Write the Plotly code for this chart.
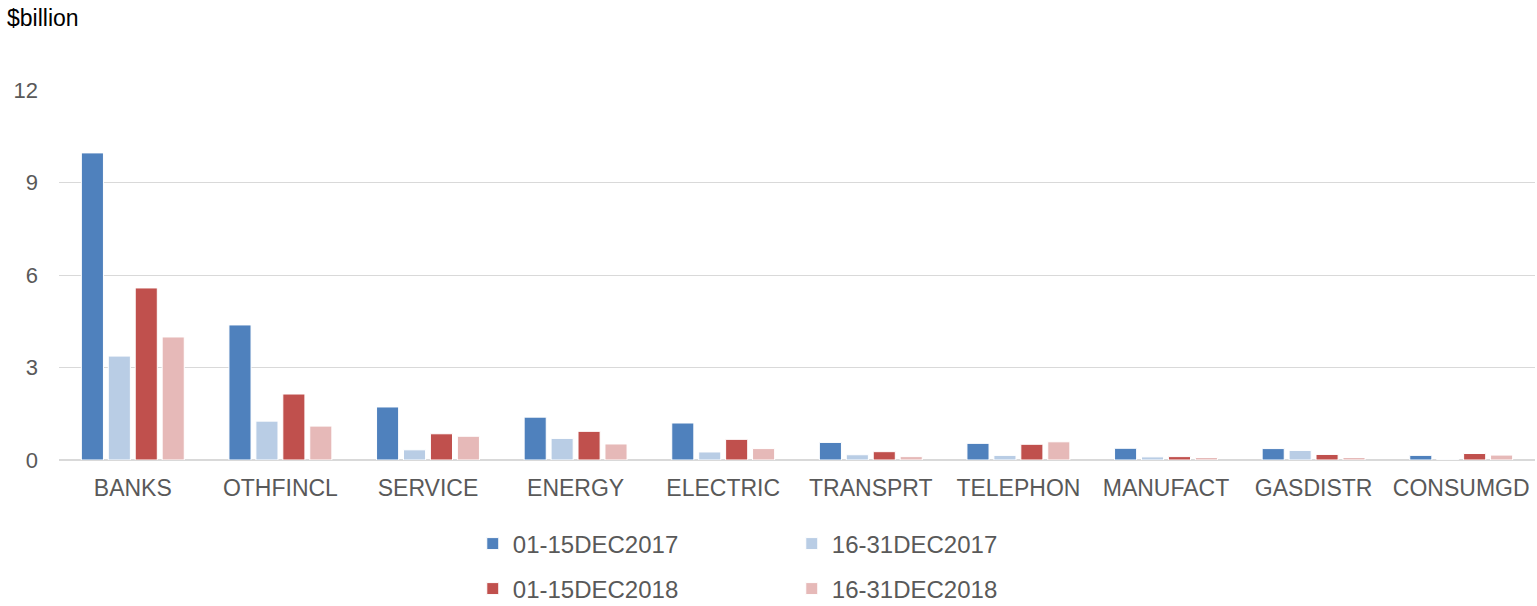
import plotly.graph_objects as go

# sectors and the four half-month periods, $billion
sectors = ['BANKS', 'OTHFINCL', 'SERVICE', 'ENERGY', 'ELECTRIC',
           'TRANSPRT', 'TELEPHON', 'MANUFACT', 'GASDISTR', 'CONSUMGD']

dec1_2017 = [9.96, 4.38, 1.72, 1.39, 1.20, 0.57, 0.54, 0.38, 0.37, 0.15]
dec2_2017 = [3.37, 1.26, 0.33, 0.70, 0.26, 0.17, 0.15, 0.10, 0.31, 0.02]
dec1_2018 = [5.58, 2.14, 0.85, 0.93, 0.67, 0.27, 0.51, 0.11, 0.18, 0.21]
dec2_2018 = [3.99, 1.10, 0.77, 0.52, 0.37, 0.11, 0.59, 0.08, 0.08, 0.16]

y_ticks = [0, 3, 6, 9, 12]

series = [
    ('01-15DEC2017', dec1_2017, '#4F81BD', 'legend'),
    ('16-31DEC2017', dec2_2017, '#B9CDE5', 'legend'),
    ('01-15DEC2018', dec1_2018, '#C0504D', 'legend2'),
    ('16-31DEC2018', dec2_2018, '#E6B9B8', 'legend2'),
]

fig = go.Figure()
for name, vals, col, leg in series:
    fig.add_trace(go.Bar(
        name=name, x=sectors, y=vals,
        marker=dict(color=col, line=dict(color='white', width=1)),
        legend=leg))

# two legends, one row each, so the entries sit in a 2x2 grid
# (container refs so they don't push the bottom margin)
legend_style = dict(orientation='h', x=0.3076, xref='container', xanchor='left',
                    yref='container', yanchor='middle',
                    entrywidth=274, entrywidthmode='pixels',
                    font=dict(family='Liberation Sans', size=24, color='#595959'),
                    bgcolor='rgba(0,0,0,0)', itemclick=False)

fig.update_layout(
    width=1537, height=606,
    margin=dict(l=59, r=2, t=90, b=146),
    plot_bgcolor='white', paper_bgcolor='white',
    barmode='group', bargap=0.27, bargroupgap=0.18,
    font=dict(family='Liberation Sans', size=22, color='#595959'),
    legend=dict(y=1 - 544 / 606, **legend_style),
    legend2=dict(y=1 - 589 / 606, **legend_style),
    xaxis=dict(showgrid=False, ticks='', ticklabelstandoff=12,
               tickfont=dict(size=23, color='#595959')),
    yaxis=dict(range=[0, 12], tickvals=y_ticks, showgrid=True,
               gridcolor='#D9D9D9', gridwidth=1,
               zeroline=True, zerolinecolor='#D9D9D9', zerolinewidth=2,
               ticks='', ticklabelstandoff=20,
               tickfont=dict(size=22, color='#595959')),
    annotations=[dict(text='$billion', xref='paper', yref='paper',
                      x=(5 - 59) / 1476, y=(460 - 18) / 370,
                      xanchor='left', yanchor='middle', showarrow=False,
                      font=dict(family='Liberation Sans', size=23, color='#000000'))],
)

# drop the default page margin so the figure fills the window
fig.write_html('out.html', config={'displayModeBar': False},
               post_script="document.body.style.margin='0';")
